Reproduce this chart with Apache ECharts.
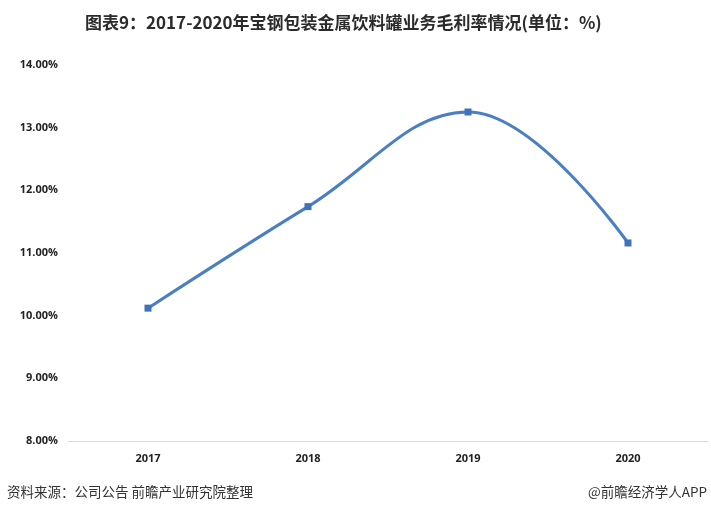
<!DOCTYPE html>
<html><head><meta charset="utf-8">
<script src="https://cdn.jsdelivr.net/npm/echarts@6/dist/echarts.min.js"></script>
<style>html,body{margin:0;padding:0;background:#fff}#c{width:711px;height:513px}</style>
</head><body><div id="c"></div>
<script>
const categories = ['2017','2018','2019','2020'];
const marginValues = [10.12, 11.74, 13.25, 11.16];
const titleText = '图表9：2017-2020年宝钢包装金属饮料罐业务毛利率情况(单位：%)';
const sourceText = '资料来源：公司公告 前瞻产业研究院整理';
const brandText = '@前瞻经济学人APP';

const chart = echarts.init(document.getElementById('c'));
chart.setOption({
  backgroundColor: '#fff',
  animation: false,
  title: {
    text: titleText, left: 80, top: 9,
    textStyle: { fontFamily: 'Noto Sans CJK SC', fontWeight: 'bold', fontSize: 17, color: '#2b2b2b' }
  },
  graphic: [
    { type: 'text', left: 7, top: 485, style: { text: sourceText, font: '13.5px "Noto Sans CJK SC"', fill: '#333' } },
    { type: 'text', right: 4, top: 485, style: { text: brandText, font: '13.5px "Noto Sans CJK SC"', fill: '#333' } }
  ],
  grid: { left: 68, right: 3, top: 65, bottom: 72 },
  xAxis: {
    type: 'category', data: categories, boundaryGap: true,
    axisLine: { lineStyle: { color: '#d9d9d9', width: 1 } },
    axisTick: { show: false },
    axisLabel: { color: '#222', fontWeight: 'bold', fontSize: 11, fontFamily: 'Open Sans', margin: 12 }
  },
  yAxis: {
    type: 'value', min: 8, max: 14, interval: 1,
    axisLine: { show: false }, axisTick: { show: false }, splitLine: { show: false },
    axisLabel: { color: '#222', fontWeight: 'bold', fontSize: 11, fontFamily: 'Open Sans', margin: 10,
      formatter: v => v.toFixed(2) + '%' }
  },
  series: [{
    type: 'line', data: marginValues, smooth: 0.4,
    symbol: 'rect', symbolSize: 7,
    lineStyle: { color: '#4a7fc1', width: 3 },
    itemStyle: { color: '#3f72bd' }
  }]
});
</script></body></html>
